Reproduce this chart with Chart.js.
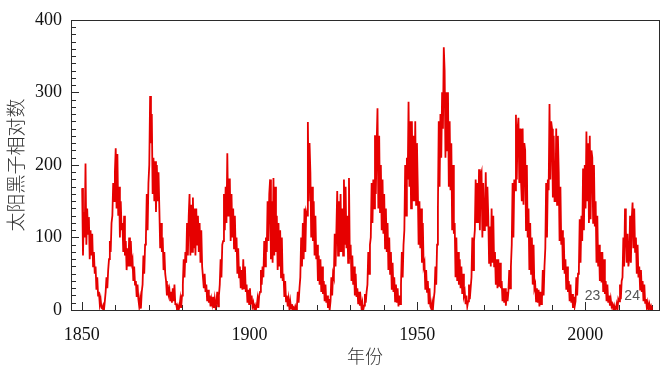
<!DOCTYPE html>
<html>
<head>
<meta charset="utf-8">
<script src="https://cdn.jsdelivr.net/npm/chart.js@4/dist/chart.umd.min.js"></script>
<style>
  html, body { margin: 0; padding: 0; background: #fff; }
  #wrap { width: 666px; height: 375px; }
</style>
</head>
<body>
<div id="wrap"><canvas id="myChart"></canvas></div>
<script>
// Sunspot number, 4 values per year (quarters)

const startYear = 1850;
const perYear = 4;

const ssn1850s = [168,75,135,100, 202,90,140,105, 128,70,110,75, 105,60,80,50, 60,28,45,20, 25,8,15,3, 2,6,0,12, 25,45,30,55, 70,95,80,120, 130,175,150,190];
const ssn1860s = [223,140,215,130, 170,100,150,110, 120,80,130,75, 95,55,85,60, 100,60,95,65, 70,40,60,35, 40,18,35,15, 5,15,2,25, 35,75,50,90, 100,160,110,175];
const ssn1870s = [200,295,230,270, 160,210,150,205, 135,200,150,190, 140,85,120,80, 100,55,80,50, 40,20,35,22, 28,12,25,10, 30,12,35,8, 8,2,6,0, 5,15,3,20];
const ssn1880s = [35,70,45,80, 65,120,75,130, 160,75,145,80, 155,85,140,75, 140,90,130,80, 120,65,110,60, 60,30,50,25, 35,12,28,10, 20,5,15,8, 18,3,15,4];
const ssn1890s = [10,25,5,20, 35,70,45,90, 95,160,110,170, 120,216,130,180, 180,95,160,100, 140,85,130,80, 100,50,85,45, 60,30,55,28, 70,30,60,25, 35,10,28,8];
const ssn1900s = [30,8,20,5, 10,2,6,0, 5,15,3,20, 25,55,35,60, 45,95,60,100, 80,150,95,160, 180,70,150,65, 182,75,170,80, 130,55,120,60, 110,45,100,40];
const ssn1910s = [50,18,40,12, 20,5,15,2, 12,2,8,0, 3,0,5,1, 5,25,10,30, 45,100,60,120, 70,140,80,135, 130,259,150,230, 190,100,170,95, 150,75,130,70];
const ssn1920s = [90,40,75,35, 70,25,60,22, 40,12,35,10, 20,3,15,0, 12,45,20,50, 45,105,60,110, 164,75,150,80, 160,80,140,75, 180,90,170,85, 130,65,182,70];
const ssn1930s = [90,40,75,35, 60,20,50,18, 30,8,25,6, 15,2,10,0, 6,22,10,25, 35,80,50,90, 100,175,120,180, 140,241,160,230, 278,140,240,135, 200,110,180,105];
const ssn1940s = [160,85,140,80, 120,55,100,50, 80,28,65,25, 45,12,35,10, 30,5,20,8, 35,80,45,90, 110,200,130,210, 180,287,170,260, 140,260,150,240, 150,260,145,230];
const ssn1950s = [170,90,150,85, 140,65,120,60, 65,28,55,25, 40,8,30,5, 2,10,0,15, 25,60,35,90, 140,260,170,270, 210,300,250,362, 330,210,300,220, 300,170,260,165];
const ssn1960s = [230,110,200,105, 120,45,100,40, 80,35,70,30, 60,22,50,20, 25,8,20,5, 12,35,15,30, 45,100,55,95, 110,180,120,175, 120,194,110,185, 190,100,175,110];
const ssn1970s = [120,190,115,170, 130,65,115,60, 140,65,130,60, 80,35,70,30, 70,32,65,30, 40,12,30,10, 30,6,25,12, 25,55,30,60, 90,175,100,180, 165,269,180,250];
const ssn1980s = [265,175,250,180, 150,250,145,230, 220,110,200,100, 140,55,120,50, 100,35,90,30, 35,12,30,10, 28,5,25,8, 15,55,20,60, 85,175,100,180, 165,284,180,260];
const ssn1990s = [250,155,240,150, 150,250,145,240, 190,95,170,90, 110,55,100,50, 70,28,60,25, 40,12,35,10, 22,3,18,5, 12,45,20,50, 55,125,65,130, 95,195,110,200];
const ssn2000s = [140,246,150,230, 120,240,125,220, 210,120,200,115, 150,65,130,60, 90,40,80,38, 80,25,70,22, 40,12,35,10, 20,6,15,5, 8,1,6,0, 2,8,0,15];
const ssn2010s = [12,35,15,40, 45,100,60,140, 110,65,105,60, 70,130,65,125, 148,85,140,80, 100,50,90,45, 60,28,55,25, 40,12,35,10, 15,3,10,2, 8,1,5,0];

const xTicks = [1850, 1900, 1950, 2000];
const yTicks = [0, 100, 200, 300, 400];

// cycle numbers written near the bottom
const cycleLabels = ['23', '24'];
const cycleYears = [2002.2, 2014.0];
const cycleValue = 19;

const allValues = [].concat(ssn1850s, ssn1860s, ssn1870s, ssn1880s, ssn1890s, ssn1900s,
    ssn1910s, ssn1920s, ssn1930s, ssn1940s, ssn1950s, ssn1960s, ssn1970s, ssn1980s,
    ssn1990s, ssn2000s, ssn2010s);

const points = allValues.map((v, i) => ({ x: startYear + (i + 0.5) / perYear, y: v }));

const axisColor = '#2b2b2b';
const serif = "'Liberation Serif', 'Times New Roman', serif";
const cjk = "'Noto Sans CJK SC', sans-serif";

// frame + inward ticks
const frameTicks = {
    id: 'frameTicks',
    beforeDatasetsDraw(chart) {
        const { ctx, chartArea: a, scales: { x, y } } = chart;
        ctx.save();
        ctx.strokeStyle = axisColor;
        ctx.lineWidth = 1;
        ctx.strokeRect(Math.round(a.left) + 0.5, Math.round(a.top) + 0.5,
            Math.round(a.right - a.left), Math.round(a.bottom - a.top));
        ctx.beginPath();
        for (let v = 10; v < 400; v += 10) {
            const py = Math.round(y.getPixelForValue(v)) + 0.5;
            const len = v % 100 === 0 ? 8 : 5;
            ctx.moveTo(a.left, py);
            ctx.lineTo(a.left + len, py);
        }
        for (let yr = 1850; yr <= 2020; yr += 10) {
            const px = Math.round(x.getPixelForValue(yr)) + 0.5;
            const len = yr % 50 === 0 ? 8 : 5;
            ctx.moveTo(px, a.bottom);
            ctx.lineTo(px, a.bottom - len);
        }
        ctx.stroke();
        ctx.restore();
    },
    afterDatasetsDraw(chart) {
        const { ctx, scales: { x, y } } = chart;
        ctx.save();
        ctx.fillStyle = '#555';
        ctx.font = "14px 'Liberation Sans', Arial, sans-serif";
        ctx.textAlign = 'center';
        ctx.textBaseline = 'middle';
        cycleLabels.forEach((t, i) => {
            ctx.fillText(t, x.getPixelForValue(cycleYears[i]), y.getPixelForValue(cycleValue));
        });
        ctx.restore();
    }
};

const ctx = document.getElementById('myChart').getContext('2d');

new Chart(ctx, {
    type: 'line',
    data: {
        datasets: [{
            data: points,
            borderColor: 'rgb(230,0,0)',
            borderWidth: 1.8,
            pointRadius: 0,
            tension: 0,
            fill: false
        }]
    },
    options: {
        responsive: true,
        maintainAspectRatio: false,
        animation: false,
        events: [],
        layout: { padding: { top: 17, right: 7, left: 0, bottom: 0 } },
        plugins: { legend: { display: false }, tooltip: { enabled: false } },
        scales: {
            x: {
                type: 'linear',
                min: 1846.8,
                max: 2022,
                grid: { display: false, drawTicks: false },
                border: { display: false },
                ticks: {
                    includeBounds: false,
                    color: '#111',
                    font: { family: serif, size: 18 },
                    padding: 14,
                    maxRotation: 0,
                    callback: v => String(v)
                },
                afterBuildTicks: s => { s.ticks = xTicks.map(v => ({ value: v })); },
                afterFit: s => { s.height = 65; },
                title: {
                    display: true,
                    text: '年份',
                    color: '#333',
                    font: { family: cjk, size: 18, weight: '300' },
                    padding: { top: 0, bottom: 8 }
                }
            },
            y: {
                min: 0,
                max: 400,
                grid: { display: false, drawTicks: false },
                border: { display: false },
                ticks: {
                    color: '#111',
                    font: { family: serif, size: 18 },
                    padding: 9
                },
                afterBuildTicks: s => { s.ticks = yTicks.map(v => ({ value: v })); },
                afterFit: s => { s.width = 71; },
                title: {
                    display: true,
                    text: '太阳黑子相对数',
                    color: '#333',
                    font: { family: cjk, size: 19, weight: '300' },
                    padding: { top: 4, bottom: 0 }
                }
            }
        }
    },
    plugins: [frameTicks]
});
</script>
</body>
</html>
